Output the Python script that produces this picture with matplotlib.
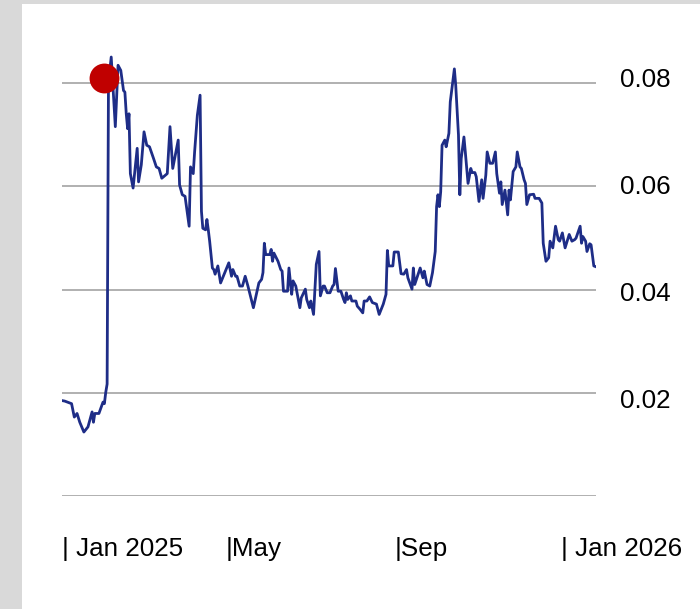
import matplotlib
matplotlib.use("Agg")
import matplotlib.pyplot as plt
import matplotlib.dates as mdates
from matplotlib.patches import Rectangle
import numpy as np

plt.rcParams['font.family'] = ['Liberation Sans', 'DejaVu Sans']

# data: day offsets from 1 Jan 2025 and values
days = [0, 2, 7, 9, 11, 13, 16, 19, 22, 23, 24, 27, 30, 31, 32, 33, 34, 36, 39, 41,
        43, 45, 46, 47, 48, 49, 50, 52, 55, 56, 58, 60, 62, 64, 67, 69, 71, 73, 77, 79,
        81, 85, 86, 88, 90, 93, 94, 96, 97, 99, 101, 102, 103, 105, 106, 107, 108, 110, 111, 112,
        114, 116, 118, 120, 122, 124, 125, 127, 128, 130, 132, 134, 136, 140, 144, 146, 147, 148, 149, 152,
        153, 154, 155, 158, 160, 161, 162, 165, 166, 168, 169, 171, 174, 175, 178, 179, 181, 182, 184, 186,
        188, 189, 191, 192, 194, 196, 198, 199, 200, 202, 204, 206, 207, 208, 209, 211, 212, 215, 216, 218,
        220, 221, 223, 225, 227, 230, 232, 235, 237, 238, 239, 242, 243, 246, 248, 250, 252, 253, 256, 257,
        258, 260, 262, 264, 265, 267, 269, 271, 273, 274, 275, 276, 277, 278, 280, 281, 283, 284, 286, 287,
        288, 290, 291, 292, 294, 295, 297, 299, 300, 302, 303, 305, 307, 308, 310, 311, 313, 315, 317, 318,
        320, 321, 322, 324, 326, 327, 328, 330, 332, 333, 335, 336, 338, 339, 340, 342, 345, 346, 349, 351,
        352, 354, 356, 357, 359, 361, 363, 364, 366, 368, 371, 373, 375, 376, 379, 380, 381, 383, 384, 386,
        387, 389, 391]
values = [0.0185, 0.0184, 0.0179, 0.0153, 0.0160, 0.0143, 0.0124, 0.0134, 0.0163, 0.0143,
          0.0160, 0.0160, 0.0182, 0.0179, 0.0201, 0.0217, 0.0802, 0.0851, 0.0716, 0.0835,
          0.0825, 0.0786, 0.0783, 0.0741, 0.0712, 0.0741, 0.0625, 0.0597, 0.0674, 0.0609,
          0.0642, 0.0706, 0.0680, 0.0677, 0.0654, 0.0638, 0.0635, 0.0616, 0.0625, 0.0716,
          0.0635, 0.0690, 0.0603, 0.0584, 0.0581, 0.0523, 0.0638, 0.0625, 0.0667, 0.0738,
          0.0777, 0.0552, 0.0519, 0.0516, 0.0536, 0.0516, 0.0494, 0.0442, 0.0439, 0.0430,
          0.0446, 0.0413, 0.0426, 0.0439, 0.0452, 0.0426, 0.0439, 0.0426, 0.0426, 0.0407,
          0.0407, 0.0426, 0.0407, 0.0365, 0.0413, 0.0420, 0.0433, 0.0490, 0.0468, 0.0468,
          0.0478, 0.0455, 0.0471, 0.0455, 0.0439, 0.0436, 0.0397, 0.0397, 0.0442, 0.0391,
          0.0417, 0.0407, 0.0365, 0.0384, 0.0401, 0.0381, 0.0365, 0.0378, 0.0352, 0.0449,
          0.0474, 0.0388, 0.0407, 0.0407, 0.0394, 0.0394, 0.0407, 0.0410, 0.0441, 0.0397,
          0.0397, 0.0381, 0.0375, 0.0394, 0.0381, 0.0388, 0.0378, 0.0378, 0.0368, 0.0362,
          0.0355, 0.0378, 0.0378, 0.0386, 0.0375, 0.0372, 0.0352, 0.0372, 0.0391, 0.0476,
          0.0446, 0.0446, 0.0473, 0.0473, 0.0431, 0.0430, 0.0439, 0.0423, 0.0401, 0.0442,
          0.0410, 0.0426, 0.0442, 0.0423, 0.0436, 0.0410, 0.0407, 0.0433, 0.0474, 0.0561,
          0.0584, 0.0561, 0.0590, 0.0680, 0.0690, 0.0677, 0.0703, 0.0764, 0.0806, 0.0828,
          0.0796, 0.0700, 0.0584, 0.0654, 0.0696, 0.0667, 0.0606, 0.0635, 0.0627, 0.0627,
          0.0619, 0.0571, 0.0613, 0.0577, 0.0622, 0.0667, 0.0645, 0.0645, 0.0667, 0.0625,
          0.0587, 0.0609, 0.0565, 0.0593, 0.0545, 0.0593, 0.0574, 0.0629, 0.0638, 0.0667,
          0.0638, 0.0635, 0.0613, 0.0606, 0.0565, 0.0584, 0.0585, 0.0577, 0.0577, 0.0568,
          0.0490, 0.0455, 0.0462, 0.0494, 0.0481, 0.0523, 0.0497, 0.0494, 0.0510, 0.0481,
          0.0507, 0.0494, 0.0497, 0.0500, 0.0523, 0.0490, 0.0503, 0.0494, 0.0474, 0.0489,
          0.0487, 0.0446, 0.0444]

marker_day = 30.5
marker_val = 0.0811

tick_dates = ['2025-01-01', '2025-05-01', '2025-09-01', '2026-01-01']
tick_labels = ['| Jan 2025', '|May', '|Sep', '| Jan 2026']
y_ticks = [0.02, 0.04, 0.06, 0.08]
y_labels = ['0.02', '0.04', '0.06', '0.08']

base = mdates.date2num(np.datetime64('2025-01-01'))
x = base + np.array(days, dtype=float)

fig = plt.figure(figsize=(7, 6.09), dpi=100)
fig.patch.set_facecolor('#d9d9d9')
fig.add_artist(Rectangle((22 / 700, 0), 678 / 700, 605 / 609,
                         transform=fig.transFigure, facecolor='white',
                         edgecolor='none', zorder=0))

ax = fig.add_axes([62 / 700, 113 / 609, 534 / 700, 456 / 609])
ax.set_facecolor('none')
ax.plot(x, values, color='#1e2d87', lw=2.0, zorder=3)
ax.plot(base + marker_day, marker_val, 'o', ms=21.5, color='#c00000',
        mec='none', zorder=4)

ax.set_xlim(base, base + 390.6)
ax.set_ylim(0, 0.0884)
ax.set_yticks([0] + y_ticks)
ax.grid(axis='y', color='#aaaaaa', lw=1.3)
ax.tick_params(axis='y', length=0, labelleft=False)
for s in ax.spines.values():
    s.set_visible(False)

ax.set_xticks([mdates.date2num(np.datetime64(d)) for d in tick_dates])
ax.set_xticklabels(tick_labels, fontsize=18.7, ha='left')
ax.tick_params(axis='x', length=0, pad=29.5)

# right-hand value labels sit on their own scale
ax2 = ax.twinx()
ax2.set_ylim(0.00215, 0.08742)
ax2.set_yticks(y_ticks)
ax2.set_yticklabels(y_labels, fontsize=18.7, va='center')
ax2.tick_params(axis='y', length=0, pad=17.3)
for s in ax2.spines.values():
    s.set_visible(False)

fig.savefig('out.png', dpi=100, facecolor=fig.get_facecolor())
